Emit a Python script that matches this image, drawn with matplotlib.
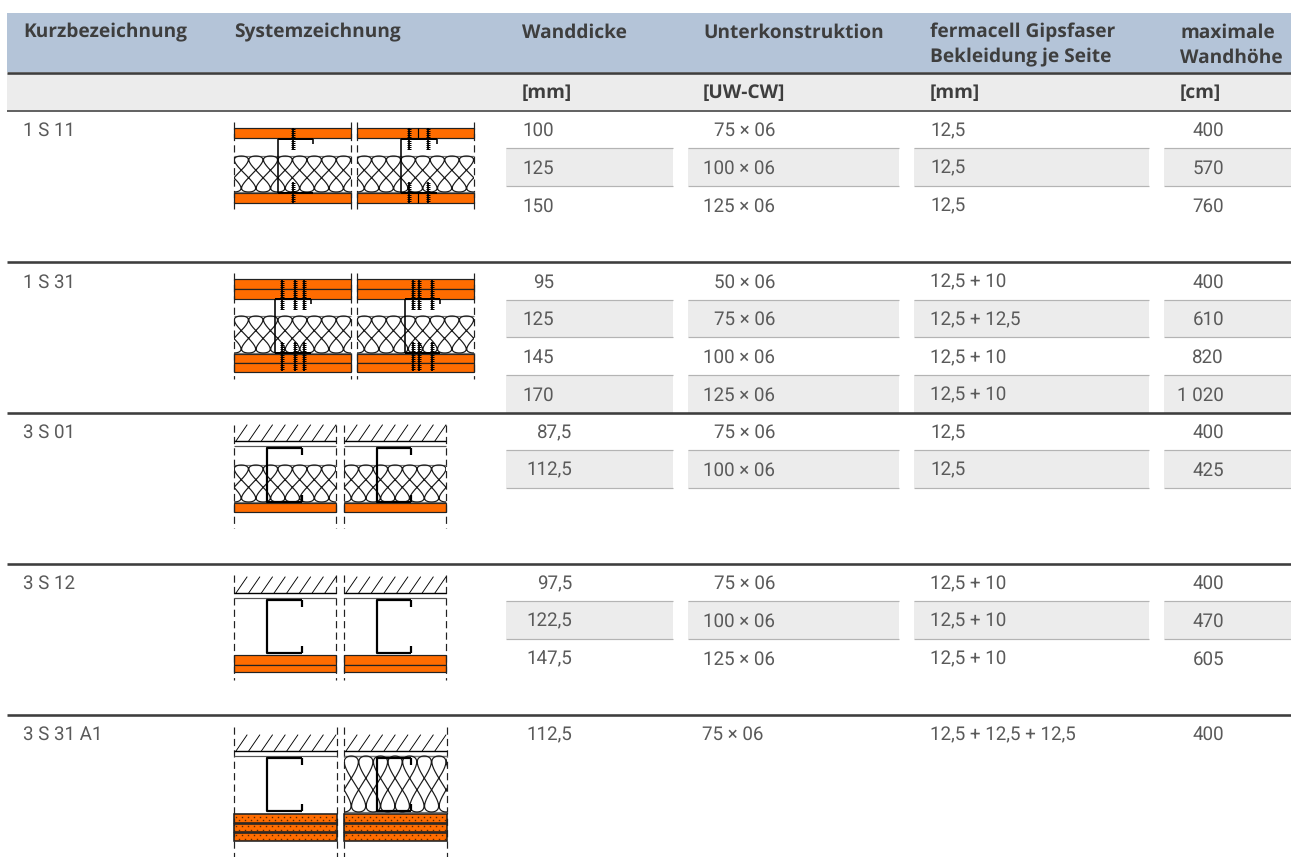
import matplotlib
matplotlib.use("Agg")
import numpy as np
import matplotlib.pyplot as plt
from matplotlib.patches import Rectangle

plt.rcParams['font.family'] = ['Roboto', 'DejaVu Sans']
plt.rcParams['text.hinting'] = 'no_hinting'

# Tabellendaten
kurz = ['1 S 11', '1 S 31', '3 S 01', '3 S 12', '3 S 31 A1']
wanddicke = [['100', '125', '150'],
             ['95', '125', '145', '170'],
             ['87,5', '112,5'],
             ['97,5', '122,5', '147,5'],
             ['112,5']]
unterkonstruktion = [['75×06', '100×06', '125×06'],
                     ['50×06', '75×06', '100×06', '125×06'],
                     ['75×06', '100×06'],
                     ['75×06', '100×06', '125×06'],
                     ['75×06']]
bekleidung = [['12,5', '12,5', '12,5'],
              ['12,5+10', '12,5+12,5', '12,5+10', '12,5+10'],
              ['12,5', '12,5'],
              ['12,5+10', '12,5+10', '12,5+10'],
              ['12,5+12,5+12,5']]
wandhoehe = [['400', '570', '760'],
             ['400', '610', '820', '1 020'],
             ['400', '425'],
             ['400', '470', '605'],
             ['400']]
kopf = ['Kurzbezeichnung', 'Systemzeichnung', 'Wanddicke', 'Unterkonstruktion',
        'fermacell Gipsfaser\nBekleidung je Seite', 'maximale\nWandhöhe']
einheiten = ['[mm]', '[UW-CW]', '[mm]', '[cm]']

# Layout in Pixeln
gruppe_top = [110.5, 262, 412.5, 563.5, 714.5]
zeile = 37.7
kopf_x = [23, 234, 522, 703, 930, 1180]
spalten = [(506, 673), (688, 899), (914, 1149), (1164, 1291)]
ORANGE = '#ff6c00'
BLAU = '#b4c4d8'
GRAU = '#ececec'
TEXT = '#5a5a5a'
DUNKEL = '#3e3e3e'
px = 0.72
KOPF_FONT = dict(family=['Open Sans', 'DejaVu Sans'], fontsize=13.8, fontweight='bold', color=DUNKEL, va='baseline')
WERT_FONT = dict(fontsize=13.5, color=TEXT, va='baseline')

fig = plt.figure(figsize=(12.91, 8.57), dpi=100)
ax = fig.add_axes([0, 0, 1, 1])
ax.set_xlim(0, 1291)
ax.set_ylim(857, 0)
ax.axis('off')


def linie(x, y, lw=1.0, c='black', **kw):
    ax.plot(x, y, color=c, lw=lw * px, solid_capstyle='butt', **kw)


def platte(x0, x1, y0, y1, speckle=False):
    ax.add_patch(Rectangle((x0, y0), x1 - x0, y1 - y0, facecolor=ORANGE, edgecolor='#222222',
                           lw=(1.6 if speckle else 1.2) * px))
    if speckle:
        for k, yp in enumerate([y0 + 2.5, y0 + 6]):
            xp = np.arange(x0 + 2 + 3 * k, x1, 6)
            ax.plot(xp, np.full(len(xp), yp), linestyle='none', marker='s', ms=1.0, mew=0, color='#5a2a00')


def schraube(x, y0, y1):
    linie([x, x], [y0, y1], 1.8)
    y = min(y0, y1) + 1
    while y < max(y0, y1):
        linie([x - 1.8, x + 1.8], [y, y], 1.0)
        y += 2


# Daemmung als durchlaufende Schlaufenlinie
def wolle(x0, x1, y0, y1, w=14.6):
    clip = Rectangle((x0, y0 - 1), x1 - x0, y1 - y0 + 2, transform=ax.transData)
    linie([x0, x1], [y0, y0], 1.2, '#777777')
    linie([x0, x1], [y1, y1], 1.2, '#777777')
    t = np.linspace(-2 * np.pi, 2 * np.pi * ((x1 - x0) / w + 1), 1500)
    x = x0 + w / 2 + w * t / (2 * np.pi) - 0.6 * w * np.sin(2 * t)
    c = np.cos(t)
    y = (y0 + y1) / 2 - (y1 - y0) / 2 * (0.8 * c + 0.2 * np.sin(np.pi / 2 * c))
    kurve, = ax.plot(x, y, color='#1a1a1a', lw=1.2 * px)
    kurve.set_clip_path(clip)


def profil(xw, xf, y0, y1, lw=2.2):
    linie([xf, xw, xw, xf], [y0, y0, y1, y1], lw)
    linie([xf, xf], [y0, y0 + 7], lw)
    linie([xf, xf], [y1, y1 - 7], lw)


def wand(x0, x1, y0, y1):
    linie([x0, x1], [y1, y1], 1.4)
    x = x0 + 2
    while x < x1:
        dx = min(11, x1 - x)
        ax.plot([x, x + dx], [y1, y1 - dx / 11 * (y1 - y0)], color='black', lw=0.9 * px)
        x += 12.7
    linie([x0, x1], [y1 + 5, y1 + 5], 1.2, '#555555')


def strich(x, y0, y1):
    ax.plot([x, x], [y0, y1], color='#222222', lw=1.2 * px, linestyle=(0, (6, 3.5)))


# Kopfzeilen
ax.add_patch(Rectangle((7, 13), 1284, 59, facecolor=BLAU, edgecolor='none'))
ax.add_patch(Rectangle((7, 73), 1284, 37, facecolor=GRAU, edgecolor='none'))
linie([7, 1291], [73, 73], 2.6, DUNKEL)
linie([7, 1291], [110.5, 110.5], 1.6, DUNKEL)

for x, t in zip(kopf_x, kopf):
    for i, s in enumerate(t.split('\n')):
        ax.text(x, 37.5 + i * 25, s, **KOPF_FONT)
for x, t in zip(kopf_x[2:], einheiten):
    ax.text(x, 98, t, **KOPF_FONT)

# Zeilen
for g, name in enumerate(kurz):
    top = gruppe_top[g]
    if g > 0:
        linie([7, 1291], [top, top], 2.6, DUNKEL)
    ax.text(23, top + 25.5, name, **WERT_FONT)
    n = len(wanddicke[g])
    for i in range(n):
        yt = top + i * zeile
        yb = yt + zeile
        base = yt + 25.5
        if i % 2 == 1:
            for s0, s1 in spalten:
                ax.add_patch(Rectangle((s0, yt), s1 - s0, zeile, facecolor=GRAU, edgecolor='none', zorder=0))
                linie([s0, s1], [yt, yt], 1.2, '#b4b4b4')
                if i < 3:
                    linie([s0, s1], [yb, yb], 1.2, '#b4b4b4')
        w = wanddicke[g][i]
        ax.text(572 if ',' in w else 554, base, w, ha='right', **WERT_FONT)
        ax.text(763 if g == 4 else 775, base, unterkonstruktion[g][i].replace('×', ' × '), ha='right', **WERT_FONT)
        ax.text(930, base, bekleidung[g][i].replace('+', ' + '), **WERT_FONT)
        ax.text(1224, base, wandhoehe[g][i], ha='right', **WERT_FONT)

# Systemzeichnungen
# 1 S 11
for (x0, x1, xw, xf, schr, fuge) in [(234, 351, 277, 313, [293], None), (357, 474, 400, 437, [409, 428], 418)]:
    for x in (x0, x1):
        strich(x, 122, 210)
    platte(x0, x1, 128, 138)
    platte(x0, x1, 193, 203)
    wolle(x0, x1, 156, 192)
    linie([xw + 1, xf], [139, 139], 2)
    linie([xf, xf], [139, 144], 1.6)
    linie([xw + 1, xw + 1], [139, 193], 1.6)
    linie([xw + 1, xf], [192.5, 192.5], 2)
    for s in schr:
        schraube(s, 128, 150)
        schraube(s, 182, 203)
    if fuge:
        linie([fuge, fuge], [128, 138], 1.2)
        linie([fuge, fuge], [193, 203], 1.2)

# 1 S 31
for (x0, x1, xw, xf, schr) in [(234, 351, 274, 311, [282, 295, 304]), (357, 474, 404, 440, [413, 419, 432])]:
    for x in (x0, x1):
        strich(x, 273, 379)
    platte(x0, x1, 279, 288.5)
    platte(x0, x1, 288.5, 298.5)
    platte(x0, x1, 353.5, 363)
    platte(x0, x1, 363, 372)
    wolle(x0, x1, 316, 353)
    linie([xw + 1, xf], [299, 299], 2)
    linie([xf, xf], [299, 304], 1.6)
    linie([xw + 1, xw + 1], [299, 353], 1.6)
    linie([xw + 1, xf], [353, 353], 2)
    for s in schr:
        schraube(s, 280, 310)
        schraube(s, 342, 371)

# 3 S 01
for (x0, x1, xw, xf) in [(234, 336, 267, 302), (344, 446, 377, 411)]:
    for x in (x0, x1):
        strich(x, 425, 528)
    wand(x0, x1, 425, 441)
    wolle(x0, x1, 465, 502)
    profil(xw, xf, 447.5, 502)
    platte(x0, x1, 503, 512)

# 3 S 12
for (x0, x1, xw, xf) in [(234, 336, 267, 302), (344, 446, 377, 411)]:
    for x in (x0, x1):
        strich(x, 575, 680)
    wand(x0, x1, 577, 593)
    profil(xw, xf, 599.5, 653)
    platte(x0, x1, 655, 664.5)
    platte(x0, x1, 664.5, 672)

# 3 S 31 A1
for (x0, x1, xw, xf, iso) in [(234, 337, 267, 302, False), (344, 447, 377, 411, True)]:
    for x in (x0, x1):
        strich(x, 727, 857)
    wand(x0, x1, 735, 751)
    if iso:
        wolle(x0, x1, 756, 812)
    profil(xw, xf, 757.5, 811)
    platte(x0, x1, 814, 822.5, True)
    platte(x0, x1, 823.5, 831.5, True)
    platte(x0, x1, 832.5, 841, True)

fig.savefig('out.png', dpi=100)
